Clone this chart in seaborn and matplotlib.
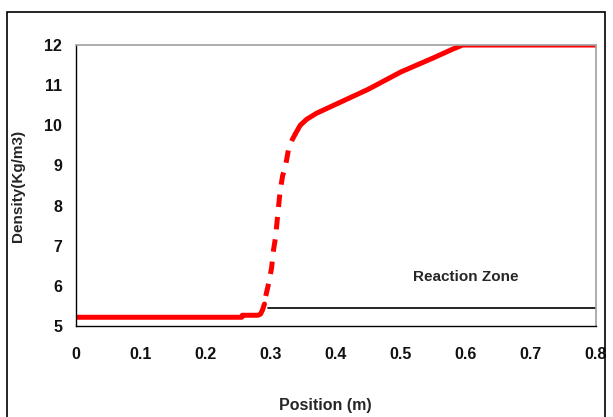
import numpy as np
import matplotlib
matplotlib.use('agg')
import matplotlib.pyplot as plt
import pandas as pd
import seaborn as sns
from matplotlib.patches import Rectangle

# density profile
pre_pos = [0.0, 0.1, 0.2, 0.255, 0.256, 0.28, 0.284, 0.287, 0.29]
pre_den = [5.22, 5.22, 5.22, 5.22, 5.27, 5.27, 5.3, 5.4, 5.55]
shock_pos = [0.292, 0.297, 0.301, 0.304, 0.307, 0.31, 0.314, 0.318, 0.322, 0.327, 0.333, 0.338]
shock_den = [5.75, 6.1, 6.45, 6.9, 7.2, 7.7, 8.35, 8.75, 8.95, 9.4, 9.65, 9.8]
post_pos = [0.338, 0.345, 0.355, 0.37, 0.39, 0.41, 0.45, 0.5, 0.55, 0.58, 0.595, 0.7, 0.8]
post_den = [9.8, 10.0, 10.15, 10.3, 10.45, 10.6, 10.9, 11.33, 11.68, 11.9, 12.0, 12.0, 12.0]

zone_pos = [0.295, 0.8]
zone_den = [5.45, 5.45]

xticks = [0, 0.1, 0.2, 0.3, 0.4, 0.5, 0.6, 0.7, 0.8]
yticks = [5, 6, 7, 8, 9, 10, 11, 12]

sns.set_style('white')
font = ['Liberation Sans Narrow', 'Liberation Sans', 'DejaVu Sans']
plt.rcParams['font.family'] = font

fig = plt.figure(figsize=(6.13, 4.17), dpi=100)
ax = fig.add_axes([0.124, 0.218, 0.848, 0.674])

sns.lineplot(x=zone_pos, y=zone_den, ax=ax, color='black', linewidth=1.2)
sns.lineplot(x=pre_pos, y=pre_den, ax=ax, color='red', linewidth=3.6)
sns.lineplot(x=shock_pos, y=shock_den, ax=ax, color='red', linewidth=3.6,
             linestyle=(0, (2.5, 2.0)))
sns.lineplot(x=post_pos, y=post_den, ax=ax, color='red', linewidth=3.6)

ax.set_xlim(0, 0.8)
ax.set_ylim(5, 12)
ax.set_xticks(xticks)
ax.set_xticklabels([f'{t:g}' for t in xticks])
ax.set_yticks(yticks)
ax.tick_params(axis='both', direction='out', length=5, width=1, color='black',
               labelsize=11.5)
ax.tick_params(axis='x', pad=10)
ax.tick_params(axis='y', pad=5)
for lab in ax.get_xticklabels() + ax.get_yticklabels():
    lab.set_fontweight('bold')
    lab.set_color('#111111')

for s in ['left', 'bottom']:
    ax.spines[s].set_color('black')
    ax.spines[s].set_linewidth(1)
for s in ['top', 'right']:
    ax.spines[s].set_color('#a0a0a0')
    ax.spines[s].set_linewidth(1.2)

ax.text(0.6, 6.22, 'Reaction Zone', ha='center', va='center', fontsize=11,
        fontweight='bold')
ax.set_xlabel('Position (m)', fontsize=11.5, fontweight='bold', va='center', ha='center')
ax.set_ylabel('Density(Kg/m3)', fontsize=11, fontweight='bold', va='center', ha='center')
ax.xaxis.set_label_coords(0.479, -0.281)
ax.yaxis.set_label_coords(-0.112, 0.5)

fig.patches.append(Rectangle((0.0114, -0.05), 0.976, 1.021, transform=fig.transFigure,
                             fill=False, edgecolor='black', linewidth=1.2))

fig.savefig('out.png', dpi=100)
